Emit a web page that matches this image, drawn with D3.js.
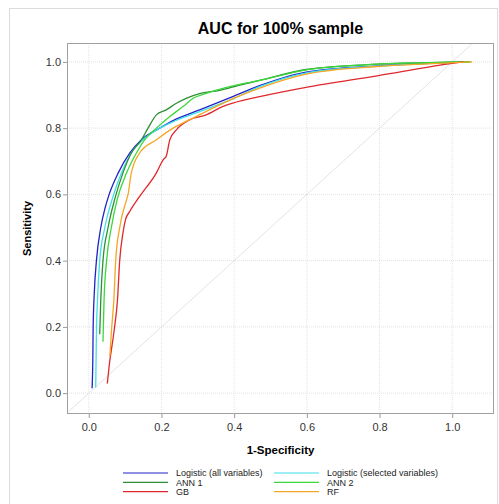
<!DOCTYPE html>
<html>
<head>
<meta charset="utf-8">
<script src="https://cdn.jsdelivr.net/npm/d3@7"></script>
<style>
  body { margin: 0; background: #fff; }
  svg { font-family: "Liberation Sans", Arial, sans-serif; }
</style>
</head>
<body>
<svg id="chart" width="499" height="504"></svg>
<script>
// ROC points: [1-specificity, sensitivity]
const logisticAll = [[0.009,0.015],[0.011,0.1],[0.012,0.2],[0.015,0.3],[0.021,0.4],[0.033,0.5],[0.045,0.56],[0.056,0.6],
  [0.081,0.665],[0.113,0.725],[0.145,0.765],[0.195,0.8],[0.236,0.825],[0.305,0.855],[0.396,0.895],[0.47,0.928],
  [0.598,0.969],[0.794,0.988],[0.99,0.998],[1.04,1.0]]
const logisticSel = [[0.019,0.017],[0.020,0.1],[0.021,0.183],[0.024,0.283],[0.030,0.4],[0.044,0.5],[0.064,0.584],
  [0.09,0.665],[0.117,0.725],[0.149,0.765],[0.195,0.8],[0.24,0.823],[0.31,0.852],[0.40,0.89],[0.47,0.925],
  [0.6,0.967],[0.794,0.987],[0.99,0.998],[1.04,1.0]]
const ann1 = [[0.030,0.178],[0.033,0.283],[0.039,0.4],[0.053,0.5],[0.071,0.584],[0.094,0.665],[0.117,0.725],
  [0.145,0.765],[0.163,0.8],[0.186,0.84],[0.213,0.855],[0.241,0.875],[0.268,0.89],[0.305,0.904],[0.36,0.914],
  [0.415,0.93],[0.47,0.944],[0.598,0.977],[0.794,0.993],[0.99,0.999],[1.05,1.0]]
const ann2 = [[0.039,0.155],[0.042,0.283],[0.049,0.4],[0.062,0.5],[0.078,0.584],[0.104,0.665],[0.131,0.725],
  [0.154,0.765],[0.186,0.8],[0.223,0.835],[0.259,0.865],[0.287,0.89],[0.323,0.905],[0.405,0.93],[0.47,0.944],
  [0.598,0.976],[0.794,0.993],[0.99,0.999],[1.05,1.0]]
const gb = [[0.051,0.029],[0.056,0.082],[0.069,0.183],[0.079,0.283],[0.085,0.4],[0.094,0.484],[0.101,0.524],
  [0.113,0.549],[0.14,0.594],[0.186,0.665],[0.205,0.705],[0.213,0.715],[0.223,0.765],[0.241,0.795],[0.277,0.825],
  [0.323,0.84],[0.368,0.865],[0.433,0.886],[0.47,0.895],[0.598,0.923],[0.794,0.958],[0.99,0.994],[1.03,1.0]]
const rf = [[0.058,0.112],[0.062,0.183],[0.069,0.283],[0.074,0.4],[0.085,0.5],[0.104,0.584],[0.108,0.6],
  [0.117,0.665],[0.14,0.725],[0.186,0.765],[0.232,0.8],[0.277,0.825],[0.35,0.865],[0.405,0.893],[0.47,0.921],
  [0.598,0.963],[0.794,0.986],[0.99,0.997],[1.055,1.0]]

const seriesNames = ['Logistic (all variables)', 'Logistic (selected variables)', 'ANN 1', 'ANN 2', 'GB', 'RF']
const seriesData = [logisticAll, logisticSel, ann1, ann2, gb, rf]
const seriesColors = ['#2222c8', '#3de0e8', '#2e8f34', '#3ad83a', '#e0282c', '#f5a623']
const xTicks = [0, 0.2, 0.4, 0.6, 0.8, 1.0]
const yTicks = [0, 0.2, 0.4, 0.6, 0.8, 1.0]

const svg = d3.select('#chart')
const pLeft = 67, pRight = 494, pTop = 43, pBottom = 414

const x = d3.scaleLinear().domain([-0.06, 1.115]).range([pLeft, pRight])
const y = d3.scaleLinear().domain([-0.063, 1.057]).range([pBottom, pTop])

// outer light frame
svg.append('rect')
  .attr('x', 9.5).attr('y', 8.5).attr('width', 488).attr('height', 500)
  .attr('fill', 'none').attr('stroke', '#dcdcdc')

svg.append('text')
  .attr('x', (pLeft + pRight) / 2).attr('y', 34)
  .attr('text-anchor', 'middle')
  .style('font-size', '16px').style('font-weight', 'bold')
  .text('AUC for 100% sample')

const grid = svg.append('g')
grid.selectAll('line.gx').data(xTicks).enter().append('line')
  .attr('x1', d => x(d)).attr('x2', d => x(d))
  .attr('y1', pTop).attr('y2', pBottom)
  .attr('stroke', '#e2e2e2').attr('stroke-dasharray', '1,1')
grid.selectAll('line.gy').data(yTicks).enter().append('line')
  .attr('y1', d => y(d)).attr('y2', d => y(d))
  .attr('x1', pLeft).attr('x2', pRight)
  .attr('stroke', '#e2e2e2').attr('stroke-dasharray', '1,1')

svg.append('defs').append('clipPath').attr('id', 'clip')
  .append('rect').attr('x', pLeft).attr('y', pTop).attr('width', pRight - pLeft).attr('height', pBottom - pTop)

// reference diagonal
svg.append('line')
  .attr('clip-path', 'url(#clip)')
  .attr('x1', x(-0.06)).attr('y1', y(-0.06))
  .attr('x2', x(1.06)).attr('y2', y(1.06))
  .attr('stroke', '#e3e3e3').attr('stroke-width', 1)

const line = d3.line()
  .curve(d3.curveMonotoneX)
  .x(d => x(d[0]))
  .y(d => y(d[1]))

svg.append('g').attr('clip-path', 'url(#clip)')
  .selectAll('path')
  .data(seriesData)
  .enter().append('path')
  .attr('d', line)
  .attr('fill', 'none')
  .attr('stroke', (d, i) => seriesColors[i])
  .attr('stroke-width', 1.3)

// axes
const xAxis = svg.append('g')
  .attr('transform', `translate(0,${pBottom})`)
  .call(d3.axisBottom(x).tickValues(xTicks).tickFormat(d3.format('.1f')).tickSize(4).tickSizeOuter(0))
const yAxis = svg.append('g')
  .attr('transform', `translate(${pLeft},0)`)
  .call(d3.axisLeft(y).tickValues(yTicks).tickFormat(d3.format('.1f')).tickSize(4).tickSizeOuter(0))
;[xAxis, yAxis].forEach(a => {
  a.select('.domain').remove()
  a.selectAll('line').attr('stroke', '#999')
  a.selectAll('text').attr('fill', '#333').style('font-size', '11px')
    .style('font-family', '"Liberation Sans", Arial, sans-serif')
})
xAxis.selectAll('text').attr('dy', '0.95em').attr('y', 7)
yAxis.selectAll('text').attr('x', -6)

svg.append('rect')
  .attr('x', pLeft + 0.5).attr('y', pTop + 0.5)
  .attr('width', pRight - pLeft - 1).attr('height', pBottom - pTop - 1)
  .attr('fill', 'none').attr('stroke', '#a0a0a0')

svg.append('text')
  .attr('x', (pLeft + pRight) / 2).attr('y', 454)
  .attr('text-anchor', 'middle')
  .style('font-size', '11.5px').style('font-weight', 'bold')
  .text('1-Specificity')

svg.append('text')
  .attr('transform', `translate(31,${(pTop + pBottom) / 2}) rotate(-90)`)
  .attr('text-anchor', 'middle')
  .style('font-size', '11px').style('font-weight', 'bold')
  .text('Sensitivity')

// legend, two columns
const legend = svg.append('g')
const colX = [123, 274]
const rowY = [473, 482.3, 491.6]
seriesNames.forEach((name, i) => {
  const cx = colX[i % 2], cy = rowY[Math.floor(i / 2)]
  legend.append('line')
    .attr('x1', cx).attr('x2', cx + 45)
    .attr('y1', cy).attr('y2', cy)
    .attr('stroke', seriesColors[i]).attr('stroke-width', 1.2)
  legend.append('text')
    .attr('x', cx + 53).attr('y', cy + 3.2)
    .style('font-size', '9px').attr('fill', '#222')
    .text(name)
})
</script>
</body>
</html>
